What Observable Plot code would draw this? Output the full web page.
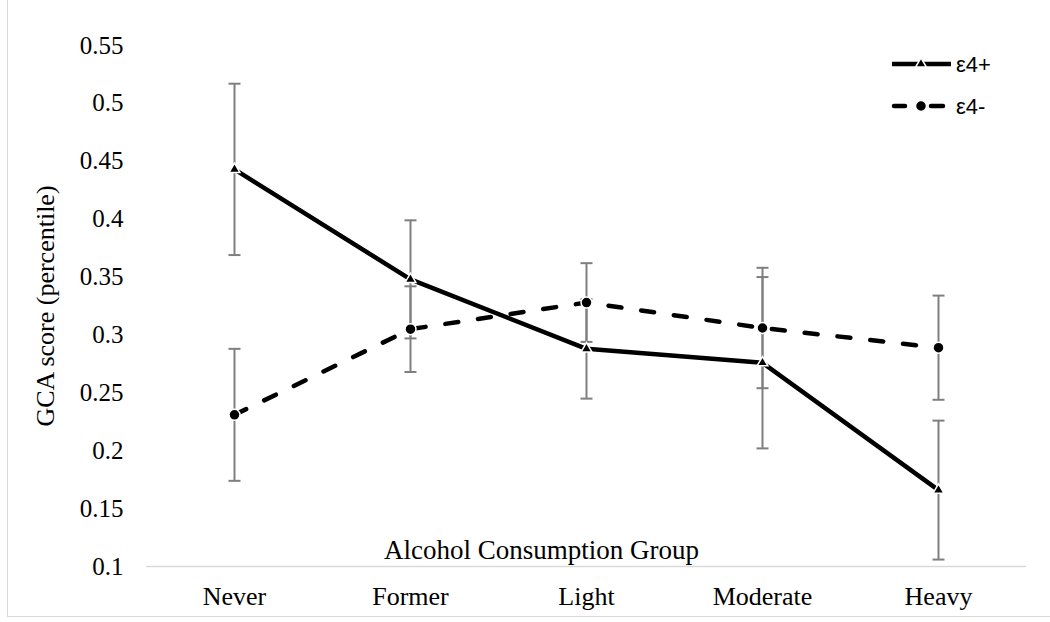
<!DOCTYPE html>
<html>
<head>
<meta charset="utf-8">
<script src="https://cdn.jsdelivr.net/npm/d3@7"></script>
<script src="https://cdn.jsdelivr.net/npm/@observablehq/plot@0.6"></script>
<style>
  html, body { margin: 0; padding: 0; background: #fff; overflow: hidden; }
  #wrap { position: relative; width: 1050px; height: 622px; }
  #frame { position: absolute; left: 7px; top: -10px; width: 1100px; height: 626px;
           border-left: 1.5px solid #d9d9d9; border-bottom: 1.5px solid #d9d9d9; pointer-events: none; }
  #legend { position: absolute; left: 0; top: 0; pointer-events: none; }
</style>
</head>
<body>
<div id="wrap"><div id="frame"></div></div>
<script>
// ---- data ----
const categories = ["Never", "Former", "Light", "Moderate", "Heavy"];
const seriesLabels = ["ε4+", "ε4-"];
const e4posValues = [0.443, 0.348, 0.288, 0.276, 0.166];
const e4posErrors = [0.074, 0.051, 0.043, 0.074, 0.060];
const e4negValues = [0.231, 0.305, 0.328, 0.306, 0.289];
const e4negErrors = [0.057, 0.037, 0.034, 0.052, 0.045];
const yTicks = [0.1, 0.15, 0.2, 0.25, 0.3, 0.35, 0.4, 0.45, 0.5, 0.55];
const xTitle = "Alcohol Consumption Group";
const yTitle = "GCA score (percentile)";

// ---- build rows ----
const pos = categories.map((c, i) => ({cat: c, series: seriesLabels[0], v: e4posValues[i], e: e4posErrors[i]}));
const neg = categories.map((c, i) => ({cat: c, series: seriesLabels[1], v: e4negValues[i], e: e4negErrors[i]}));
const all = [...pos, ...neg];

const capSymbol = {
  draw(context, size) {
    const r = Math.sqrt(size / Math.PI);
    context.moveTo(-r, 0);
    context.lineTo(r, 0);
  }
};

const errColor = "#7f7f7f";

const chart = Plot.plot({
  width: 1050,
  height: 622,
  marginLeft: 146,
  marginRight: 24,
  marginTop: 45,
  marginBottom: 56,
  style: {fontFamily: "'Liberation Serif', 'Times New Roman', serif", fontSize: "25px", color: "#000", background: "transparent"},
  x: {type: "point", domain: categories, padding: 0.5, label: null},
  y: {domain: [0.1, 0.55], label: null},
  marks: [
    Plot.ruleY([0.1], {stroke: "#d9d9d9", strokeWidth: 1.5}),
    Plot.axisY({ticks: yTicks, tickSize: 0, tickPadding: 23, tickFormat: d => String(+d.toFixed(2)), fontSize: 25, label: null}),
    Plot.axisX({tickSize: 0, tickPadding: 20, fontSize: 26, label: null}),
    // error bars
    Plot.ruleX(all, {x: "cat", y1: d => d.v - d.e, y2: d => d.v + d.e, stroke: errColor, strokeWidth: 2}),
    Plot.dot(all, {x: "cat", y: d => d.v - d.e, symbol: capSymbol, r: 6, stroke: errColor, strokeWidth: 2, fill: "none"}),
    Plot.dot(all, {x: "cat", y: d => d.v + d.e, symbol: capSymbol, r: 6, stroke: errColor, strokeWidth: 2, fill: "none"}),
    // lines
    Plot.line(pos, {x: "cat", y: "v", stroke: "#000", strokeWidth: 4.5, strokeLinejoin: "round"}),
    Plot.line(neg, {x: "cat", y: "v", stroke: "#000", strokeWidth: 4.5, strokeDasharray: "13,20", strokeLinecap: "round"}),
    // markers
    Plot.dot(pos, {x: "cat", y: "v", symbol: "triangle", r: 4, fill: "#000", stroke: "#fff", strokeWidth: 1.5}),
    Plot.dot(neg, {x: "cat", y: "v", symbol: "circle", r: 5.5, fill: "#000", stroke: "#fff", strokeWidth: 1.5}),
    // titles
    Plot.text([xTitle], {frameAnchor: "bottom", dx: -45, dy: -16, lineAnchor: "middle", textAnchor: "middle", text: d => d, fontSize: 27, fill: "#000"}),
    Plot.text([yTitle], {frameAnchor: "left", dx: -101, rotate: -90, lineAnchor: "middle", textAnchor: "middle", text: d => d, fontSize: 26, fill: "#000"})
  ]
});

const wrap = document.getElementById("wrap");
wrap.appendChild(chart);

// ---- legend overlay ----
const leg = d3.select(wrap).append("svg")
  .attr("id", "legend").attr("width", 1050).attr("height", 140);
const legendItems = [
  {label: seriesLabels[0], y: 64, dashed: false, symbol: d3.symbolTriangle, size: 4 * 4 * Math.PI},
  {label: seriesLabels[1], y: 106, dashed: true, symbol: d3.symbolCircle, size: 5.5 * 5.5 * Math.PI}
];
legendItems.forEach(it => {
  const g = leg.append("g");
  if (it.dashed) {
    g.append("line").attr("x1", 894).attr("x2", 905).attr("y1", it.y).attr("y2", it.y)
      .attr("stroke", "#000").attr("stroke-width", 4.5).attr("stroke-linecap", "round");
    g.append("line").attr("x1", 931).attr("x2", 943).attr("y1", it.y).attr("y2", it.y)
      .attr("stroke", "#000").attr("stroke-width", 4.5).attr("stroke-linecap", "round");
  } else {
    g.append("line").attr("x1", 892).attr("x2", 951).attr("y1", it.y).attr("y2", it.y)
      .attr("stroke", "#000").attr("stroke-width", 4.5);
  }
  g.append("path").attr("d", d3.symbol(it.symbol, it.size)())
    .attr("transform", `translate(921,${it.y})`)
    .attr("fill", "#000").attr("stroke", "#fff").attr("stroke-width", 1.5);
  g.append("text").attr("x", 956).attr("y", it.y).attr("dy", "0.36em")
    .attr("font-family", "'Liberation Sans', Arial, sans-serif").attr("font-size", 22)
    .attr("fill", "#000").text(it.label);
});
</script>
</body>
</html>
